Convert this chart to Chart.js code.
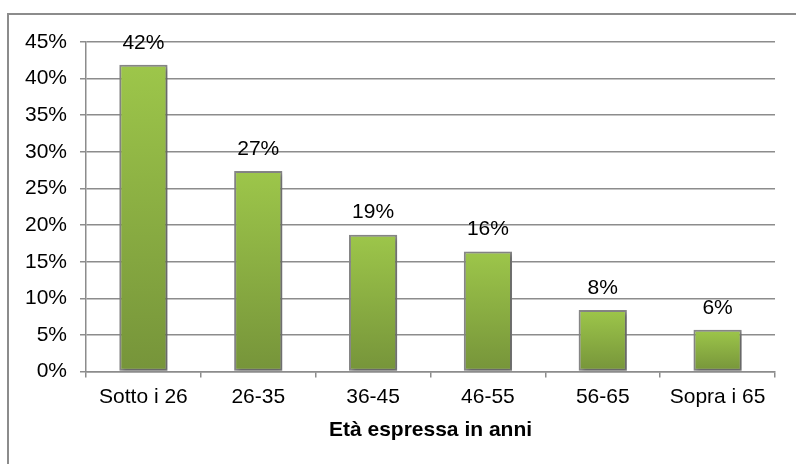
<!DOCTYPE html>
<html>
<head>
<meta charset="utf-8">
<script src="https://cdn.jsdelivr.net/npm/chart.js@4"></script>
<style>
  html, body { margin: 0; padding: 0; background: #fff; }
  #wrap { width: 796px; height: 464px; }
</style>
</head>
<body>
<div id="wrap"><canvas id="ageChart"></canvas></div>
<script>
// Age groups and share of respondents (%)
const ageLabels = ['Sotto i 26', '26-35', '36-45', '46-55', '56-65', 'Sopra i 65'];
const shareValues = [41.9, 27.4, 18.7, 16.4, 8.4, 5.7];
const yTicks = [0, 5, 10, 15, 20, 25, 30, 35, 40, 45];
const axisTitle = 'Età espressa in anni';

const gridGrey = '#8c8c8c';
Chart.defaults.font.family = "'Liberation Sans', Arial, sans-serif";
Chart.defaults.color = '#000';

// Frame around the whole chart
const framePlugin = {
  id: 'frame',
  beforeDraw(chart) {
    const c = chart.ctx;
    c.save();
    c.strokeStyle = gridGrey;
    c.lineWidth = 2;
    c.strokeRect(8, 14, 800, 500);
    c.restore();
  }
};

// Soft shadow behind bars
const shadowPlugin = {
  id: 'barShadow',
  beforeDatasetDraw(chart) {
    const c = chart.ctx;
    c.save();
    c.shadowColor = 'rgba(0,0,0,0.3)';
    c.shadowBlur = 4;
    c.shadowOffsetX = 2;
    c.shadowOffsetY = 2;
  },
  afterDatasetDraw(chart) {
    chart.ctx.restore();
  }
};

// Value labels above the bars
const valueLabels = {
  id: 'valueLabels',
  afterDatasetsDraw(chart) {
    const c = chart.ctx;
    const meta = chart.getDatasetMeta(0);
    c.save();
    c.font = "21px 'Liberation Sans', Arial, sans-serif";
    c.fillStyle = '#000';
    c.textAlign = 'center';
    c.textBaseline = 'middle';
    meta.data.forEach((bar, i) => {
      c.fillText(Math.round(shareValues[i]) + '%', bar.x, bar.y - 22);
    });
    c.restore();
  }
};

new Chart(document.getElementById('ageChart'), {
  type: 'bar',
  data: {
    labels: ageLabels,
    datasets: [{
      data: shareValues,
      backgroundColor: ctx => {
        const chart = ctx.chart;
        const area = chart.chartArea;
        if (!area || !chart.scales.y) return '#8aad41';
        const top = chart.scales.y.getPixelForValue(ctx.raw);
        const g = chart.ctx.createLinearGradient(0, top, 0, area.bottom);
        g.addColorStop(0, '#9dc64a');
        g.addColorStop(1, '#76943a');
        return g;
      },
      borderColor: '#878787',
      borderWidth: 2,
      borderSkipped: false,
      categoryPercentage: 1,
      barPercentage: 0.42
    }]
  },
  options: {
    responsive: true,
    maintainAspectRatio: false,
    animation: false,
    layout: { padding: { top: 42, right: 21, bottom: 17, left: 0 } },
    plugins: {
      legend: { display: false },
      tooltip: { enabled: false }
    },
    scales: {
      x: {
        grid: { drawOnChartArea: false, color: gridGrey, lineWidth: 1.5, tickLength: 6 },
        border: { color: gridGrey, width: 1.5 },
        ticks: { font: { size: 21 }, padding: 7, maxRotation: 0 },
        title: { display: true, text: axisTitle, font: { size: 21, weight: 'bold' }, padding: { top: 1, bottom: 4 } }
      },
      y: {
        min: 0,
        max: 45,
        afterBuildTicks: scale => { scale.ticks = yTicks.map(v => ({ value: v })); },
        afterFit: scale => { scale.width = 86; },
        grid: { color: gridGrey, lineWidth: 1.5, tickLength: 6 },
        border: { color: gridGrey, width: 1.5 },
        ticks: { font: { size: 21 }, padding: 13, callback: v => v + '%' }
      }
    }
  },
  plugins: [framePlugin, shadowPlugin, valueLabels]
});
</script>
</body>
</html>
